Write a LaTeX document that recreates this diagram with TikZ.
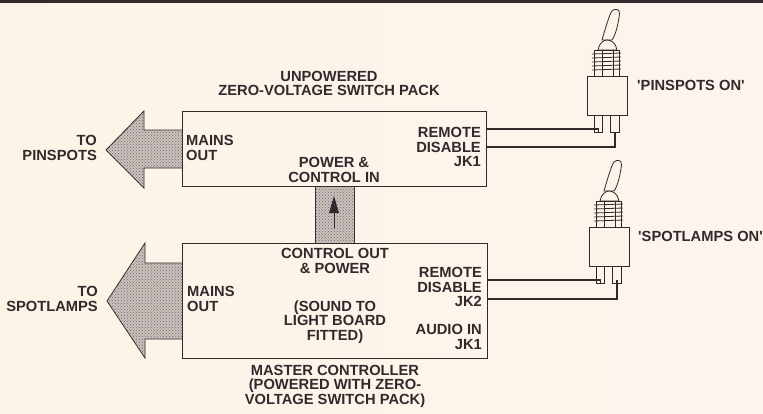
\documentclass[tikz,border=0pt]{standalone}
\usepackage{fontspec}
\newfontfamily\labfont{Liberation Sans}
\usetikzlibrary{patterns}
\definecolor{paper}{HTML}{FBF4E8}
\definecolor{paperl}{HTML}{FBF4E6}
\definecolor{paperr}{HTML}{FBF5EE}
\definecolor{ink}{HTML}{33292D}
\definecolor{hatch}{HTML}{6E686A}
\definecolor{hatchbg}{HTML}{C9C2BC}
\tikzset{
  px/.style={x=1pt,y=-1pt},
  lab/.style={font=\labfont\fontsize{14.7}{14.6}\selectfont\bfseries,text=ink,inner sep=0pt,align=center},
  labl/.style={lab,align=left},
  labr/.style={lab,align=right},
  boxn/.style={draw=ink,line width=1pt,fill=none,inner sep=0pt,minimum width=#1},
  hatched/.style={draw=ink,line width=.8pt,fill=hatchbg,postaction={pattern=crosshatch dots,pattern color=hatch}},
  wire/.style={draw=ink,line width=1.2pt},
  part/.style={draw=ink,line width=.8pt,fill=paper},
  pin/.style={draw=ink,line width=.8pt,fill=paper,minimum width=8.5pt,minimum height=18pt,inner sep=0pt},
  body/.style={draw=ink,line width=1pt,fill=paper,minimum width=39.5pt,minimum height=38.5pt,inner sep=0pt},
}
\newcommand{\swtch}[3]{% name, left x of body, top y of body
  \begin{scope}[shift={(#2,#3)}]
    \draw[part] (15,-36) .. controls (19,-50) and (23,-63) .. (25,-65) .. controls (28,-68) and (33,-67) .. (32.5,-62) .. controls (31,-50) and (28,-40) .. (25,-36) -- cycle;
    \draw[part] (11,-26) .. controls (12,-33) and (17,-36) .. (20,-36) .. controls (24,-36) and (29,-33) .. (30,-26) -- cycle;
    \draw[part] (7,0) -- (7,-26) -- (32,-26) -- (32,0);
    \foreach \y in {-22,-18,-14,-10,-6}{
      \draw[draw=ink,line width=.8pt] (5,\y) -- (34,\y-1);
    }
    \draw[draw=ink,line width=.7pt] (15,-26) -- (15,0) (26,-26) -- (26,0);
    \node[pin,anchor=north] (#1pa) at (11.5,38) {};
    \node[pin,anchor=north] (#1pb) at (28,38) {};
    \node[body,anchor=north west] (#1) at (0,0) {};
  \end{scope}
}
\begin{document}
\begin{tikzpicture}[px]
\useasboundingbox (0,0) rectangle (763,413);
\shade[left color=paperl,right color=paperr] (0,0) rectangle (763,413);
\fill[ink] (0,0) rectangle (763,3);

% connector strip and arrows
\draw[hatched] (315,186) rectangle (354,243);
\draw[hatched] (182,130) -- (144,130) -- (144,111) -- (106,150) -- (144,188) -- (144,168) -- (182,168);
\draw[hatched] (182,263) -- (145,263) -- (145,243) -- (107,301) -- (145,358) -- (145,339) -- (182,339);

% boxes
\node[boxn=304pt,minimum height=75pt,anchor=north west] (pack) at (182,111) {};
\node[boxn=305pt,minimum height=115pt,anchor=north west] (master) at (182,243) {};

% small arrow
\coordinate (ua) at (334,228);
\coordinate (ub) at (334,213);
\draw[draw=ink,line width=1pt] (ua) -- (ub);
\fill[ink] (334,196) -- (339,213) -- (329,213) -- cycle;

% switches
\swtch{swa}{587}{76}
\swtch{swb}{589}{227}

% wires
\coordinate (a1) at (pack.east |- 0,129);
\coordinate (a2) at (pack.east |- 0,147);
\coordinate (b1) at (master.east |- 0,280);
\coordinate (b2) at (master.east |- 0,299);
\draw[wire] (a1) -- (a1 -| swapa.center) -- (swapa.south);
\draw[wire] (a2) -- (a2 -| swapb.center) -- (swapb.south);
\draw[wire] (b1) -- (b1 -| swbpa.center) -- (swbpa.south);
\draw[wire] (b2) -- (b2 -| swbpb.center) -- ([yshift=4pt]swbpb.south);

% labels
\node[lab] (t1) at (329,83.5) {UNPOWERED\\ZERO-VOLTAGE SWITCH PACK};
\node[labr,anchor=east] (t2) at (97,148) {TO\\PINSPOTS};
\node[labl,anchor=west] (t3) at (186,148) {MAINS\\OUT};
\node[labr,anchor=east] (t4) at (481,147) {REMOTE\\DISABLE\\JK1};
\node[lab] (t5) at (334,170) {POWER \&\\CONTROL IN};
\node[lab] (t6) at (335,261) {CONTROL OUT\\\& POWER};
\node[labr,anchor=east] (t7) at (482,287) {REMOTE\\DISABLE\\JK2};
\node[lab] (t8) at (335,322) {(SOUND TO\\LIGHT BOARD\\FITTED)};
\node[labr,anchor=east] (t9) at (482,337) {AUDIO IN\\JK1};
\node[lab] (t10) at (335,386) {MASTER CONTROLLER\\(POWERED WITH ZERO-\\VOLTAGE SWITCH PACK)};
\node[labr,anchor=east] (t11) at (98,299) {TO\\SPOTLAMPS};
\node[labl,anchor=west] (t12) at (187,299) {MAINS\\OUT};
\node[labl,anchor=west] (t13) at (637,85) {'PINSPOTS ON'};
\node[labl,anchor=west] (t14) at (638,236) {'SPOTLAMPS ON'};
\end{tikzpicture}
\end{document}
